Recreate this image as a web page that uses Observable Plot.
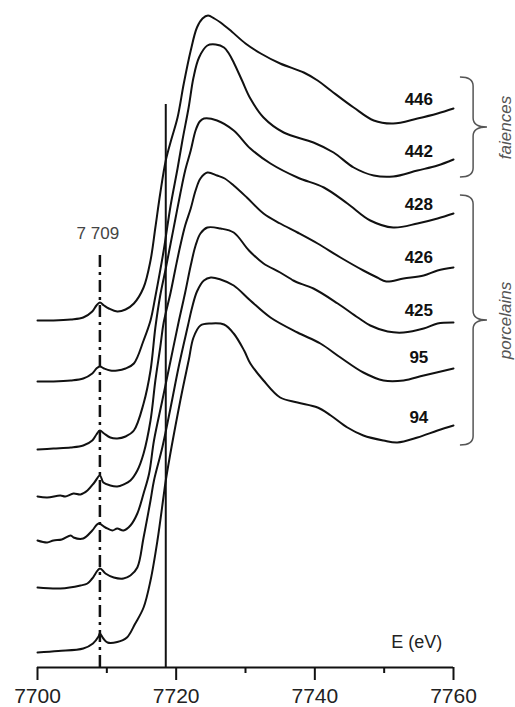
<!DOCTYPE html>
<html><head><meta charset="utf-8">
<script src="https://cdn.jsdelivr.net/npm/d3@7"></script>
<script src="https://cdn.jsdelivr.net/npm/@observablehq/plot@0.6"></script>
<style>
html,body{margin:0;padding:0;background:#fff;}
#chart svg{display:block;}
</style>
</head><body><div id="chart"></div>
<script>
// Stacked (offset) Fe K-edge XANES spectra, [energy eV, offset absorbance a.u.]
const s446 = [[7700,3.47],[7702.3,3.47],[7704.8,3.48],[7706.6,3.50],[7707.9,3.56],[7708.5,3.62],[7709,3.65],[7709.6,3.62],[7710.3,3.59],[7711.5,3.56],[7712.7,3.58],[7713.9,3.64],[7715.3,3.80],[7716.3,4.07],[7717.0,4.40],[7717.7,4.74],[7718.5,5.07],[7719.3,5.28],[7720.2,5.50],[7721.1,5.84],[7722.1,6.17],[7723.0,6.40],[7723.8,6.49],[7724.6,6.52],[7725.5,6.49],[7726.4,6.45],[7728.0,6.36],[7730.0,6.24],[7732.2,6.14],[7735.0,6.04],[7738.4,5.95],[7740.4,5.87],[7742.3,5.77],[7745.6,5.60],[7748.5,5.47],[7751.3,5.44],[7754.8,5.49],[7757.7,5.54],[7760,5.59]];
const s442 = [[7700,2.86],[7702.3,2.86],[7704.8,2.87],[7706.6,2.89],[7707.9,2.94],[7708.5,2.99],[7709,3.01],[7709.6,2.99],[7710.5,2.97],[7711.5,2.97],[7712.7,2.99],[7713.9,3.04],[7715.3,3.27],[7716.3,3.47],[7717.0,3.71],[7718.2,4.17],[7719.2,4.62],[7720.2,4.99],[7720.9,5.27],[7721.8,5.60],[7722.5,5.90],[7723.3,6.10],[7724.5,6.22],[7725.7,6.23],[7726.9,6.20],[7727.6,6.14],[7728.3,6.05],[7729.5,5.87],[7730.7,5.69],[7732.6,5.50],[7735.5,5.35],[7739.8,5.25],[7742.7,5.15],[7745.6,5.00],[7748.5,4.92],[7751.3,4.91],[7754.8,4.97],[7757.7,5.02],[7760,5.08]];
const s428 = [[7700,2.18],[7702.3,2.19],[7704.8,2.20],[7706.6,2.22],[7707.9,2.27],[7708.5,2.33],[7709,2.37],[7709.6,2.34],[7710.5,2.30],[7711.5,2.29],[7712.7,2.31],[7713.9,2.37],[7715.3,2.64],[7716.3,2.97],[7717.0,3.40],[7717.7,3.72],[7718.5,3.99],[7719.2,4.24],[7719.9,4.49],[7720.6,4.74],[7721.3,4.97],[7722.1,5.17],[7722.8,5.37],[7723.4,5.46],[7724.0,5.49],[7725.9,5.47],[7728.3,5.37],[7730.7,5.19],[7733.6,5.04],[7737.5,4.90],[7741.3,4.80],[7744.7,4.64],[7748.0,4.47],[7751.3,4.40],[7754.8,4.44],[7757.7,4.49],[7760,4.54]];
const s426 = [[7700,1.71],[7701.4,1.70],[7703.3,1.72],[7704.0,1.71],[7705.2,1.74],[7706.2,1.73],[7707.2,1.77],[7708.2,1.85],[7709,1.92],[7709.5,1.85],[7710.5,1.82],[7711.5,1.81],[7712.4,1.83],[7713.4,1.87],[7714.4,1.97],[7715.3,2.14],[7716.3,2.47],[7717.0,2.87],[7717.7,3.20],[7718.2,3.45],[7719.2,3.75],[7719.9,3.99],[7720.6,4.22],[7721.3,4.42],[7722.1,4.59],[7722.8,4.77],[7723.5,4.89],[7724.5,4.95],[7725.9,4.92],[7727.0,4.89],[7728.3,4.82],[7730.2,4.70],[7732.6,4.54],[7735.0,4.44],[7737.5,4.35],[7740.4,4.24],[7743.7,4.10],[7747.0,3.97],[7749.0,3.90],[7750.3,3.86],[7752.8,3.89],[7755.7,3.92],[7757.7,3.97],[7760,4.00]];
const s425 = [[7700,1.27],[7701.4,1.25],[7702.3,1.27],[7703.5,1.28],[7704.8,1.32],[7705.2,1.30],[7706.6,1.29],[7707.9,1.37],[7708.8,1.44],[7709.8,1.40],[7710.8,1.37],[7711.5,1.39],[7712.4,1.37],[7713.4,1.42],[7714.4,1.54],[7715.3,1.74],[7716.1,1.94],[7716.8,2.27],[7718.0,2.67],[7719.2,3.07],[7720.4,3.47],[7721.3,3.75],[7722.1,4.02],[7722.8,4.22],[7723.5,4.34],[7724.5,4.40],[7726.4,4.39],[7728.3,4.35],[7730.5,4.17],[7732.6,4.04],[7735.0,3.95],[7736.9,3.87],[7737.5,3.85],[7739.8,3.79],[7743.3,3.64],[7746.2,3.50],[7748.0,3.42],[7750.5,3.36],[7752.8,3.35],[7755.7,3.39],[7757.7,3.44],[7760,3.45]];
const s95 = [[7700,0.80],[7703.3,0.79],[7706.2,0.82],[7707.2,0.84],[7707.9,0.89],[7709,0.99],[7709.8,0.94],[7711.0,0.90],[7712.4,0.89],[7713.4,0.92],[7714.4,1.00],[7715.3,1.30],[7716.3,1.67],[7716.8,1.87],[7718.0,2.20],[7719.2,2.60],[7720.4,3.02],[7721.7,3.42],[7722.3,3.60],[7723.0,3.76],[7724.0,3.87],[7725.0,3.90],[7726.4,3.88],[7728.3,3.82],[7730.7,3.67],[7733.6,3.50],[7737.5,3.35],[7740.8,3.24],[7743.7,3.10],[7747.0,2.95],[7749.9,2.87],[7752.8,2.87],[7755.7,2.92],[7760,2.99]];
const s94 = [[7700,0.15],[7703,0.165],[7706.6,0.19],[7708.0,0.24],[7708.8,0.31],[7709,0.34],[7709.5,0.29],[7710.1,0.25],[7711.5,0.255],[7712.9,0.30],[7714.1,0.44],[7715.3,0.60],[7716.3,0.87],[7717.3,1.27],[7718.2,1.72],[7718.5,1.87],[7720.6,2.67],[7721.8,3.07],[7722.5,3.30],[7723.5,3.42],[7725.0,3.44],[7726.9,3.43],[7728.3,3.34],[7729.8,3.17],[7730.7,3.04],[7732.6,2.87],[7735.0,2.70],[7737.5,2.65],[7740.4,2.60],[7742.3,2.52],[7744.7,2.40],[7747.0,2.32],[7749.9,2.27],[7751.9,2.25],[7754.8,2.30],[7757.7,2.37],[7760,2.42]];

const sampleNames = ["446","442","428","426","425","95","94"];
const groupNames = ["faiences","porcelains"];
const groupTop = [5.90, 4.72];
const groupBottom = [4.90, 2.22];
const preEdgeEnergy = 7709;
const preEdgeLabel = "7 709";
const edgeEnergy = 7718.5;
const majorTicks = [7700, 7720, 7740, 7760];
const minorTicks = [7710, 7730, 7750];
const axisLabel = "E (eV)";

const spectra = [s446, s442, s428, s426, s425, s95, s94];
const rows = sampleNames.flatMap((name, i) => spectra[i].map(([E, A]) => ({sample: name, E, A})));

function valueAt(arr, E) {
  for (let k = 1; k < arr.length; k++) {
    if (arr[k][0] >= E) {
      const [e0, a0] = arr[k - 1], [e1, a1] = arr[k];
      return a0 + (a1 - a0) * (E - e0) / (e1 - e0);
    }
  }
  return arr[arr.length - 1][1];
}
const labelE = 7755;
const labels = sampleNames.map((name, i) => ({sample: name, E: labelE, A: valueAt(spectra[i], labelE)}));
const groups = groupNames.map((g, i) => ({group: g, top: groupTop[i], bottom: groupBottom[i], mid: (groupTop[i] + groupBottom[i]) / 2}));

function braces(index, {x, y}) {
  const g = d3.create("svg:g")
    .attr("fill", "none").attr("stroke", "#555").attr("stroke-width", 1.5);
  const xl = x(7761.0), xs = x(7762.9), xt = x(7764.9);
  groups.forEach(d => {
    const y0 = y(d.top), y1 = y(d.bottom), ym = y(d.mid);
    const r = 9;
    const p = `M${xl},${y0} Q${xs},${y0} ${xs},${y0 + r} L${xs},${ym - r} Q${xs},${ym} ${xt},${ym}` +
              ` Q${xs},${ym} ${xs},${ym + r} L${xs},${y1 - r} Q${xs},${y1} ${xl},${y1}`;
    g.append("path").attr("d", p);
  });
  return g.node();
}

const chart = Plot.plot({
  width: 515,
  height: 707,
  marginLeft: 37,
  marginRight: 62,
  marginTop: 0,
  marginBottom: 40,
  style: {fontFamily: "'Liberation Sans', Arial, sans-serif", background: "#fff", overflow: "visible"},
  x: {domain: [7700, 7760]},
  y: {domain: [0, 6.67], axis: null},
  marks: [
    Plot.ruleX([preEdgeEnergy], {y1: 0, y2: 4.14, stroke: "#111", strokeWidth: 2.5, strokeDasharray: "12,5,3,5"}),
    Plot.ruleX([edgeEnergy], {y1: 0, y2: 5.63, stroke: "#111", strokeWidth: 2}),
    Plot.line(rows, {x: "E", y: "A", z: "sample", curve: "catmull-rom", stroke: "#111", strokeWidth: 2}),
    Plot.ruleY([0], {stroke: "#111", strokeWidth: 2}),
    Plot.axisX({ticks: majorTicks, tickSize: 13, tickPadding: 8, tickFormat: d3.format("d"), fontSize: 21, strokeWidth: 2, stroke: "#111", fill: "#222", label: null}),
    Plot.axisX({ticks: minorTicks, tickSize: 6, tickFormat: () => "", strokeWidth: 2, stroke: "#111", label: null}),
    Plot.text(labels, {x: "E", y: "A", text: "sample", dy: -19, fontWeight: "bold", fontSize: 17, fill: "#111"}),
    Plot.text([axisLabel], {x: 7754.7, y: 0.25, text: d => d, fontSize: 18, fill: "#222"}),
    Plot.text([preEdgeLabel], {x: 7708.7, y: 4.34, text: d => d, fontSize: 17, fill: "#444"}),
    braces,
    Plot.text(groups, {x: 7767.5, y: "mid", text: "group", rotate: -90, fontStyle: "italic", fontSize: 17, fill: "#555"})
  ]
});
document.getElementById("chart").appendChild(chart);
</script>
</body></html>
